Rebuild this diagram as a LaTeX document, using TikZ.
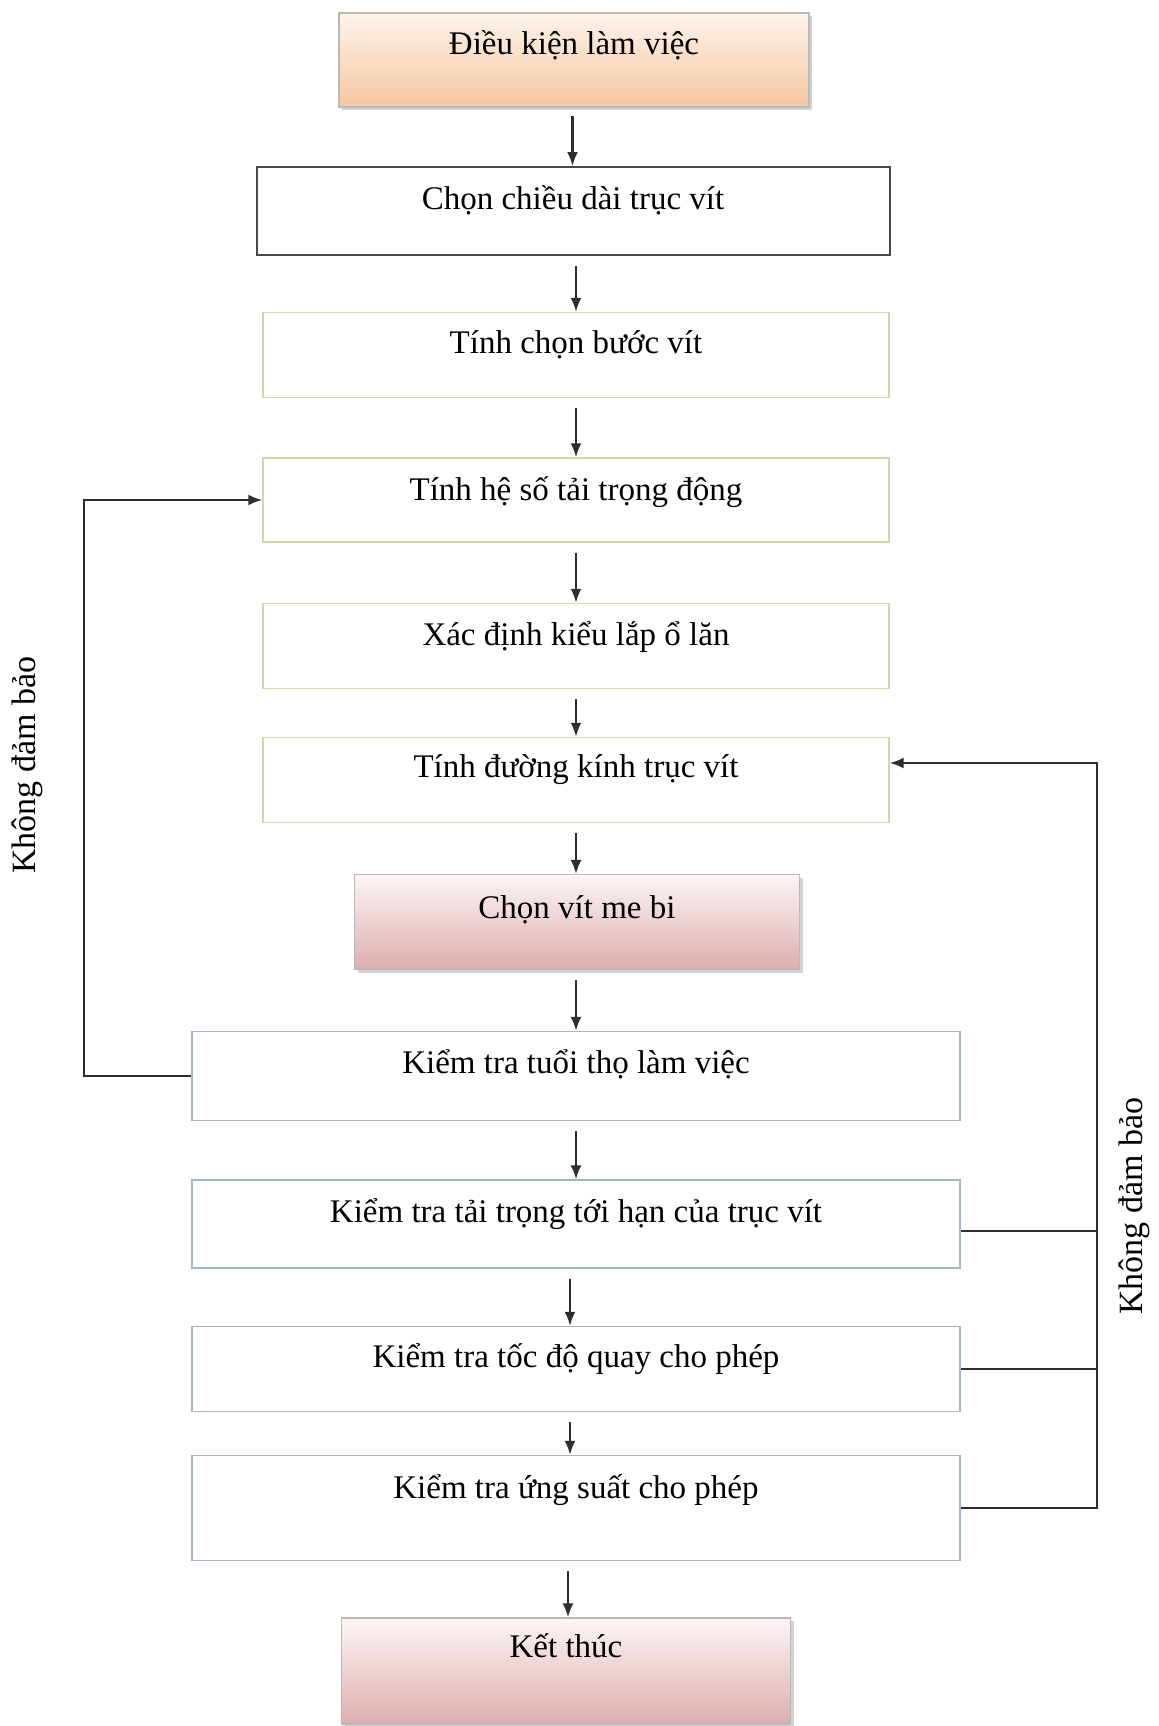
\documentclass[tikz,border=0pt]{standalone}
\usepackage{fontspec}
\setmainfont{Liberation Serif}
\usetikzlibrary{arrows.meta,shadows}

\definecolor{peachtop}{HTML}{FDF4EB}
\definecolor{peachbot}{HTML}{F5C6A0}
\definecolor{pinktop}{HTML}{FCF5F5}
\definecolor{pinkbot}{HTML}{DDADAE}
\definecolor{oliveline}{HTML}{D3D9A6}
\definecolor{blueline}{HTML}{A8B3CC}
\definecolor{darkline}{HTML}{4A4A4A}
\definecolor{wire}{HTML}{2E2E2E}

\begin{document}
\begin{tikzpicture}[x=0.5pt,y=-0.5pt,
  font=\fontsize{16.5}{20}\selectfont,
  box/.style={rectangle, inner sep=0pt, text height=12pt, text depth=14pt},
  startbox/.style={box, draw=gray!55, line width=0.6pt,
    top color=peachtop, bottom color=peachbot,
    drop shadow={shadow xshift=1.6pt, shadow yshift=-1.6pt, opacity=0.35}},
  pinkbox/.style={box, draw=gray!55, line width=0.6pt,
    top color=pinktop, bottom color=pinkbot,
    drop shadow={shadow xshift=1.6pt, shadow yshift=-1.6pt, opacity=0.35}},
  plainbox/.style={box, draw=darkline, line width=1pt, fill=white},
  olivebox/.style={box, draw=oliveline, line width=0.7pt, fill=white,
    minimum width=313pt},
  bluebox/.style={box, draw=blueline, line width=0.7pt, fill=white,
    minimum width=384pt},
  flow/.style={draw=wire, line width=1.1pt, -{Latex[length=7pt,width=5.5pt]}},
  wireline/.style={draw=wire, line width=1.1pt},
  note/.style={rotate=90, font=\fontsize{17}{20}\selectfont}
]
\useasboundingbox (0,0) rectangle (1158,1726);
\fill[white] (0,0) rectangle (1158,1726);

% main column of steps
\node[startbox, minimum width=235pt, minimum height=47pt, text depth=18pt]
  (B1) at (574,60) {Điều kiện làm việc};
\node[plainbox, minimum width=316.5pt, minimum height=44pt]
  (B2) at (573,211) {Chọn chiều dài trục vít};
\node[olivebox, minimum height=42.5pt]
  (B3) at (576,355) {Tính chọn bước vít};
\node[olivebox, minimum height=42pt, text depth=12pt]
  (B4) at (576,500) {Tính hệ số tải trọng động};
\node[olivebox, minimum height=42.5pt, text depth=13pt]
  (B5) at (576,646) {Xác định kiểu lắp ổ lăn};
\node[olivebox, minimum height=42.5pt, text depth=15pt]
  (B6) at (576,780) {Tính đường kính trục vít};
\node[pinkbox, minimum width=222.5pt, minimum height=47.5pt, text depth=16pt]
  (B7) at (577,922) {Chọn vít me bi};
\node[bluebox, minimum height=44.5pt, text depth=15pt]
  (B8) at (576,1076) {Kiểm tra tuổi thọ làm việc};
\node[bluebox, minimum height=44pt]
  (B9) at (576,1224) {Kiểm tra tải trọng tới hạn của trục vít};
\node[bluebox, minimum height=42.5pt]
  (B10) at (576,1369) {Kiểm tra tốc độ quay cho phép};
\node[bluebox, minimum height=52.5pt, text depth=22pt]
  (B11) at (576,1508) {Kiểm tra ứng suất cho phép};
\node[pinkbox, minimum width=224.5pt, minimum height=53pt, text depth=26pt]
  (B12) at (566,1671) {Kết thúc};

% downward arrows
\draw[flow, shorten <=4pt] ([xshift=-0.75pt]B1.south) -- ([xshift=-0.75pt]B1.south |- B2.north);
\draw[flow, shorten <=5pt] ([xshift=1.5pt]B2.south) -- ([xshift=1.5pt]B2.south |- B3.north);
\draw[flow, shorten <=5pt] (B3.south) -- (B4.north);
\draw[flow, shorten <=5pt] (B4.south) -- (B5.north);
\draw[flow, shorten <=5pt] (B5.south) -- (B6.north);
\draw[flow, shorten <=5pt] (B6.south) -- (B6.south |- B7.north);
\draw[flow, shorten <=5pt] (B7.south -| B8.north) -- (B8.north);
\draw[flow, shorten <=5pt] (B8.south) -- (B9.north);
\draw[flow, shorten <=5pt] ([xshift=-3pt]B9.south) -- ([xshift=-3pt]B9.south |- B10.north);
\draw[flow, shorten <=5pt] ([xshift=-3pt]B10.south) -- ([xshift=-3pt]B10.south |- B11.north);
\draw[flow, shorten <=5pt] ([xshift=-4pt]B11.south) -- ([xshift=-4pt]B11.south |- B12.north);

% left loop: back to the dynamic load factor
\coordinate (L) at (84,0);
\draw[flow] (B8.west) -- (B8.west -| L) |- (B4.west);
\node[note] (NL) at (27,765) {Không đảm bảo};

% right loop: back to the screw diameter
\coordinate (R) at (1097,0);
\draw[wireline] ([yshift=-3.3pt]B9.east) -- ([yshift=-3.3pt]B9.east -| R);
\draw[wireline] (B10.east) -- (B10.east -| R);
\draw[flow] (B11.east) -- (B11.east -| R) |- ([yshift=8.5pt]B6.east);
\node[note] (NR) at (1134,1206) {Không đảm bảo};
\end{tikzpicture}
\end{document}
